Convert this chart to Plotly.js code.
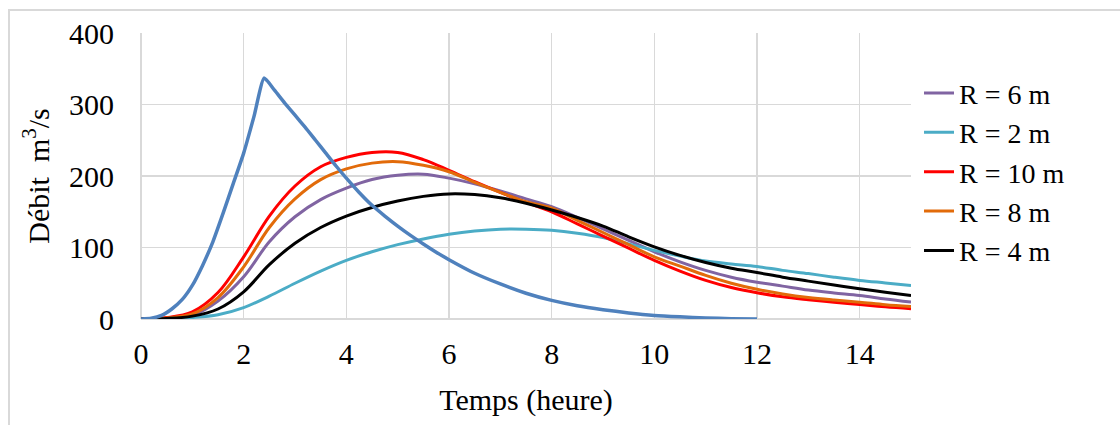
<!DOCTYPE html>
<html>
<head>
<meta charset="utf-8">
<script src="https://cdn.plot.ly/plotly-3.0.1.min.js"></script>
<style>
  html, body { margin: 0; padding: 0; background: #ffffff; overflow: hidden; }
  #frame { position: absolute; left: 8px; top: 9px; width: 1200px; height: 600px; border: 2px solid #d9d9d9; box-sizing: border-box; }
  #chart { position: absolute; left: 0; top: 0; width: 1120px; height: 425px; }
</style>
</head>
<body>
<div id="frame"></div>
<div id="chart"></div>
<script>
// Time grid for routed outflows (heures)
const tOut = [0,0.5,1,1.5,2,2.5,3,3.5,4,4.5,5,5.5,6,6.5,7,7.5,8,8.5,9,9.5,10,10.5,11,11.5,12,12.5,13,13.5,14,14.5,15];

// Outflow hydrographs (m3/s)
const qR6  = [0,1,5,25,59,108,143,167,183,195,201,202.5,197,189,179,168,157,142,126,110,94,80,68,58.5,51.5,46,40.5,36.5,33,28,23.6];
const qR2  = [0,0.3,2,6,16,32,50,67,82,94,104,112,118.5,123,125.5,125.5,124,120,114,105,96,88,81,77,73.5,68,63.5,58.5,54,50.5,47];
const qR10 = [0,2,10,37,87,144,186,213,226,233,233,223,208,192,177,163,150,133,116,99,82,67,54,44,36.7,31,27,23.5,20.3,17,14.3];
const qR8  = [0,1.5,7,30,73,128,168,195,210,218,220,215,206,191,177,164,155,138,121,104,87,74,61,50,41.5,35,30,26.5,23.6,20,17.5];
const qR4  = [0,0.7,4,14,38,76,106,128,144,156,165,171.5,175,174,169.5,162,152.5,142,130,115,101,89,79,71,65,58.5,53,47.5,42.4,37.5,33];

// Inflow hydrograph
const tIn = [0,0.2,0.4,0.6,0.8,1.0,1.2,1.4,1.6,1.8,2.0,2.2,2.4,2.6,2.8,3.0,3.2,3.4,3.6,3.8,4.0,4.25,4.5,4.75,5.0,5.25,5.5,5.75,6.0,6.5,7.0,7.5,8.0,8.5,9.0,9.5,10.0,10.5,11.0,11.5,12.0];
const qIn = [0,1,5,14,27,47,75,108,148,190,232,283,337,320,302,285,268,250,232,214,197,177,159,144,130,117,105,93.5,83,64,49,36,26,18.5,13,8.5,5,3,1.5,0.5,0];

const names = ["R = 6 m","R = 2 m","R = 10 m","R = 8 m","R = 4 m"];
const colors = ["#8064A2","#4BACC6","#FF0000","#E26B0A","#000000"];
const series = [qR6,qR2,qR10,qR8,qR4];

const xTicks = [0,2,4,6,8,10,12,14];
const yTicks = [0,100,200,300,400];

const traces = series.map((q,i)=>({
  x: tOut, y: q, type: "scatter", mode: "lines", name: names[i],
  line: {color: colors[i], width: 3, shape: "spline", smoothing: 1}
}));
traces.push({
  x: tIn, y: qIn, type: "scatter", mode: "lines", name: "Hydrogramme",
  showlegend: false,
  line: {color: "#4F81BD", width: 3.5, shape: "spline", smoothing: 0.5}
});

function F(size) {
  return {family: "'Liberation Serif', 'Times New Roman', serif", size: size, color: "#000000"};
}

const layout = {
  width: 1120, height: 425,
  margin: {l: 141, r: 209, t: 33, b: 106},
  paper_bgcolor: "rgba(0,0,0,0)", plot_bgcolor: "rgba(0,0,0,0)",
  font: F(30),
  showlegend: true,
  legend: {x: 1.0104, xanchor: "left", y: 0.877, yanchor: "top",
           font: F(28), bgcolor: "rgba(0,0,0,0)", tracegroupgap: 0},
  xaxis: {
    range: [0,15], tickvals: xTicks, ticktext: xTicks.map(String),
    showgrid: true, gridcolor: "#d9d9d9", gridwidth: 1.5,
    zeroline: true, zerolinecolor: "#d9d9d9", zerolinewidth: 1.5,
    showline: false, ticks: "", ticklabelstandoff: 14,
    tickfont: F(30),
    title: {text: "Temps (heure)", font: F(30), standoff: 19}
  },
  yaxis: {
    range: [0,400], tickvals: yTicks, ticktext: yTicks.map(String),
    showgrid: true, gridcolor: "#d9d9d9", gridwidth: 1.5,
    zeroline: true, zerolinecolor: "#d9d9d9", zerolinewidth: 1.5,
    showline: false, ticks: "", ticklabelstandoff: 26,
    tickfont: F(30),
    title: {text: "Débit&nbsp; m<sup>3</sup>/s", font: F(30), standoff: 10}
  }
};

Plotly.newPlot("chart", traces, layout, {displayModeBar: false, staticPlot: true});
</script>
</body>
</html>
